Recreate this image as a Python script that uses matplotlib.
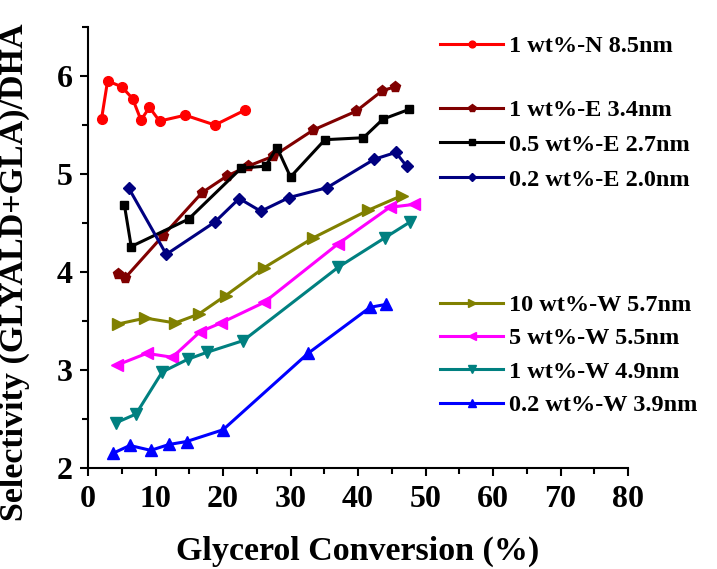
#python3
import numpy as np
import matplotlib
matplotlib.use('Agg')
import matplotlib.pyplot as plt
from matplotlib.ticker import MultipleLocator

plt.rcParams['font.family'] = ['Liberation Serif', 'DejaVu Serif']
plt.rcParams['font.weight'] = 'bold'

# data
x_n85 = [2.0, 2.9, 5.0, 6.6, 7.85, 9.1, 10.6, 14.4, 18.8, 23.2]
y_n85 = [5.56, 5.95, 5.89, 5.77, 5.55, 5.68, 5.54, 5.60, 5.50, 5.65]

x_e34 = [4.4, 5.5, 11.1, 16.9, 20.6, 23.7, 27.4, 33.4, 39.7, 43.6, 45.5]
y_e34 = [3.98, 3.94, 4.37, 4.81, 4.98, 5.08, 5.18, 5.45, 5.64, 5.85, 5.89]

x_e27 = [5.4, 6.4, 14.9, 22.7, 26.3, 28.0, 30.0, 35.1, 40.8, 43.7, 47.6]
y_e27 = [4.68, 4.26, 4.54, 5.06, 5.08, 5.27, 4.97, 5.35, 5.37, 5.56, 5.66]

x_e20 = [6.0, 11.6, 18.8, 22.4, 25.6, 29.8, 35.4, 42.4, 45.6, 47.2]
y_e20 = [4.86, 4.18, 4.51, 4.75, 4.62, 4.76, 4.86, 5.15, 5.22, 5.08]

x_w57 = [4.5, 8.5, 12.9, 16.4, 20.4, 26.0, 33.4, 41.5, 46.5]
y_w57 = [3.47, 3.53, 3.48, 3.57, 3.76, 4.04, 4.35, 4.63, 4.78]

x_w55 = [4.3, 8.7, 12.5, 16.6, 19.7, 26.1, 37.1, 44.7, 48.3]
y_w55 = [3.05, 3.17, 3.13, 3.39, 3.48, 3.69, 4.29, 4.66, 4.69]

x_w49 = [4.1, 7.1, 11.0, 14.8, 17.6, 23.0, 37.1, 44.0, 47.7]
y_w49 = [2.46, 2.55, 2.98, 3.11, 3.18, 3.30, 4.05, 4.35, 4.51]

x_w39 = [3.7, 6.2, 9.3, 12.0, 14.6, 20.0, 32.6, 41.8, 44.2]
y_w39 = [2.15, 2.23, 2.18, 2.24, 2.27, 2.39, 3.17, 3.64, 3.67]

fig = plt.figure(figsize=(7.17, 5.69), dpi=100)
ax = fig.add_axes([88/717, 1-468/569, (628-88)/717, (468-27)/569])

lw = 2.2
h_n85, = ax.plot(x_n85, y_n85, '-o', color='#FF0000', lw=lw, ms=7)
h_e34, = ax.plot(x_e34, y_e34, '-p', color='#800000', lw=lw, ms=8)
h_e27, = ax.plot(x_e27, y_e27, '-s', color='#000000', lw=lw, ms=6)
h_e20, = ax.plot(x_e20, y_e20, '-D', color='#000080', lw=lw, ms=6)
h_w57, = ax.plot(x_w57, y_w57, '->', color='#808000', lw=lw, ms=8)
h_w55, = ax.plot(x_w55, y_w55, '-<', color='#FF00FF', lw=lw, ms=8)
h_w49, = ax.plot(x_w49, y_w49, '-v', color='#008080', lw=lw, ms=8)
h_w39, = ax.plot(x_w39, y_w39, '-^', color='#0000FF', lw=lw, ms=8)

ax.set_xlim(0, 80)
ax.set_ylim(2, 6.5)
ax.xaxis.set_major_locator(MultipleLocator(10))
ax.xaxis.set_minor_locator(MultipleLocator(5))
ax.yaxis.set_major_locator(MultipleLocator(1))
ax.yaxis.set_minor_locator(MultipleLocator(0.5))

ax.spines['top'].set_visible(False)
ax.spines['right'].set_visible(False)
ax.spines['left'].set_linewidth(1.5)
ax.spines['bottom'].set_linewidth(1.5)
ax.tick_params(which='major', direction='out', length=6, width=1.5, labelsize=23)
ax.tick_params(axis='x', which='major', pad=6)
ax.tick_params(axis='y', which='major', pad=5)
ax.tick_params(which='minor', direction='out', length=4, width=1.5)

ax.set_xlabel('Glycerol Conversion (%)', fontsize=24.5, fontweight='bold', labelpad=16)
ax.set_ylabel('Selectivity (GLYALD+GLA)/DHA', fontsize=24.5, fontweight='bold')
# label sits a bit lower than the axes centre in the original
ax.yaxis.set_label_coords(-0.107, 0.444)

#legends
leg_kw = dict(frameon=False, handlelength=2.6, handletextpad=0.25, markerscale=0.7,
              prop={'family': 'Liberation Serif', 'weight': 'bold', 'size': 17.5}, borderaxespad=0,
              borderpad=0)
leg1 = fig.legend([h_n85], ['1 wt%-N 8.5nm'], loc='upper left',
                  bbox_to_anchor=(440/717, 1-35/569), **leg_kw)
leg2 = fig.legend([h_e34, h_e27, h_e20], ['1 wt%-E 3.4nm', '0.5 wt%-E 2.7nm', '0.2 wt%-E 2.0nm'],
                  loc='upper left', bbox_to_anchor=(440/717, 1-99/569), labelspacing=0.53, **leg_kw)
leg3 = fig.legend([h_w57, h_w55, h_w49, h_w39],
                  ['10 wt%-W 5.7nm', '5 wt%-W 5.5nm', '1 wt%-W 4.9nm', '0.2 wt%-W 3.9nm'],
                  loc='upper left', bbox_to_anchor=(440/717, 1-294/569), labelspacing=0.47, **leg_kw)

plt.savefig('out.png', dpi=100)
